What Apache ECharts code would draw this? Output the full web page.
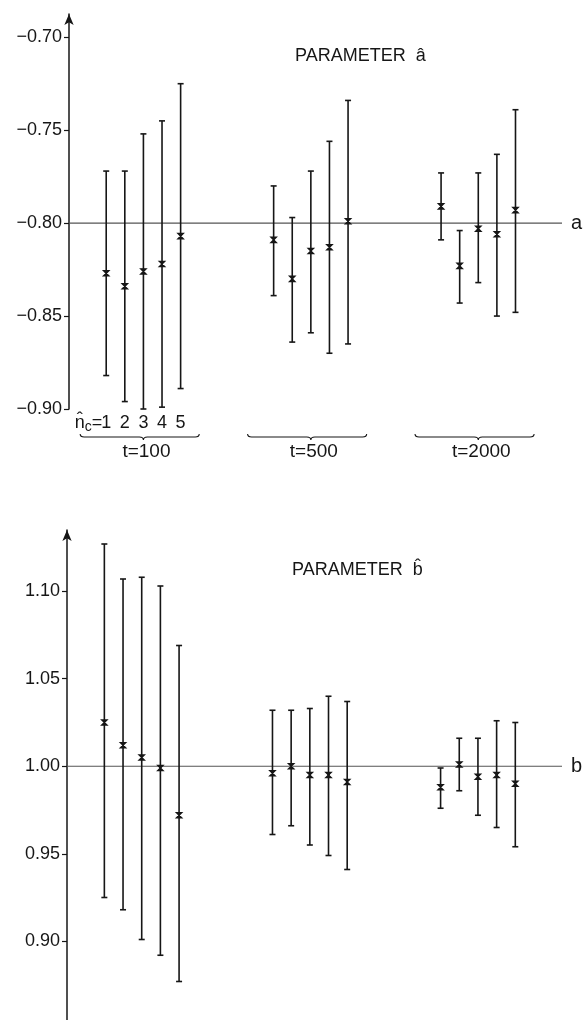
<!DOCTYPE html>
<html>
<head>
<meta charset="utf-8">
<script src="https://cdn.jsdelivr.net/npm/echarts@6/dist/echarts.min.js"></script>
<style>
  html, body { margin: 0; padding: 0; background: #fff; }
  #chart { width: 588px; height: 1020px; }
</style>
</head>
<body>
<div id="chart"></div>
<script>
// groups of simulations (t) and number of components n_c in each group
var groups = ['t=100', 't=500', 't=2000'];
var ncLabels = [1, 2, 3, 4, 5];

// parameter a : lower end, estimate, upper end (5 per group)
var aLow  = [-0.882, -0.896, -0.900, -0.899, -0.889, -0.839, -0.864, -0.859, -0.870, -0.865, -0.809, -0.843, -0.832, -0.850, -0.848];
var aEst  = [-0.827, -0.834, -0.826, -0.822, -0.807, -0.809, -0.830, -0.815, -0.813, -0.799, -0.791, -0.823, -0.803, -0.806, -0.793];
var aHigh = [-0.772, -0.772, -0.752, -0.745, -0.725, -0.780, -0.797, -0.772, -0.756, -0.734, -0.773, -0.804, -0.773, -0.763, -0.739];

// parameter b
var bLow  = [0.925, 0.918, 0.901, 0.892, 0.877, 0.961, 0.966, 0.955, 0.949, 0.941, 0.976, 0.986, 0.972, 0.965, 0.954];
var bEst  = [1.025, 1.012, 1.005, 0.999, 0.972, 0.996, 1.000, 0.995, 0.995, 0.991, 0.988, 1.001, 0.994, 0.995, 0.990];
var bHigh = [1.127, 1.107, 1.108, 1.103, 1.069, 1.032, 1.032, 1.033, 1.040, 1.037, 0.999, 1.016, 1.016, 1.026, 1.025];

// true values and axis tick labels
var aTrue = -0.80, bTrue = 1.00;
var aTicks = [-0.90, -0.85, -0.80, -0.75, -0.70];
var bTicks = [0.90, 0.95, 1.00, 1.05, 1.10];

var ink = '#161616';
var font = "'Liberation Sans', Arial, sans-serif";
var groupStep = 9;   // slots between groups on the x scale

var chart = echarts.init(document.getElementById('chart'));

function fmtTick(v) {
    var s = Math.abs(v).toFixed(2);
    return v < 0 ? '\u2212' + s : s;
}

function barData(low, est, high) {
    return low.map(function (lo, i) {
        var g = Math.floor(i / ncLabels.length), n = ncLabels[i % ncLabels.length];
        return [g * groupStep + n, lo, est[i], high[i]];
    });
}

function errorBars(idx, low, est, high) {
    return {
        type: 'custom',
        xAxisIndex: idx,
        yAxisIndex: idx,
        data: barData(low, est, high),
        encode: { x: 0, y: [1, 2, 3] },
        silent: true,
        z: 3,
        renderItem: function (params, api) {
            var x = api.value(0);
            var lo = api.coord([x, api.value(1)]),
                mid = api.coord([x, api.value(2)]),
                hi = api.coord([x, api.value(3)]);
            var cap = 3, m = 2.6;
            var st = { stroke: ink, lineWidth: 1.6, fill: null };
            return {
                type: 'group',
                children: [
                    { type: 'line', shape: { x1: hi[0], y1: hi[1], x2: lo[0], y2: lo[1] }, style: st },
                    { type: 'line', shape: { x1: hi[0] - cap, y1: hi[1], x2: hi[0] + cap, y2: hi[1] }, style: st },
                    { type: 'line', shape: { x1: lo[0] - cap, y1: lo[1], x2: lo[0] + cap, y2: lo[1] }, style: st },
                    {
                        type: 'polygon',
                        shape: { points: [[mid[0] - m, mid[1] - m], [mid[0] + m, mid[1] - m], [mid[0] - m, mid[1] + m], [mid[0] + m, mid[1] + m]] },
                        style: { stroke: ink, lineWidth: 1.4, fill: ink }
                    }
                ]
            };
        }
    };
}

function trueLine(idx, v, name) {
    return {
        type: 'line',
        xAxisIndex: idx,
        yAxisIndex: idx,
        data: [[-1, v], [25.5, v]],
        symbol: 'none',
        silent: true,
        z: 1,
        lineStyle: { color: '#555', width: 1.2 },
        endLabel: { show: true, formatter: name, distance: 9, color: ink, fontSize: 20, fontFamily: font }
    };
}

function valueAxis(idx, min, max, ticks) {
    return {
        gridIndex: idx,
        type: 'value',
        min: min,
        max: max,
        splitLine: { show: false },
        axisLine: { show: true, onZero: false, symbol: ['none', 'arrow'], symbolSize: [7, 11], lineStyle: { color: ink, width: 1.5 } },
        axisTick: { show: true, length: 5, customValues: ticks, lineStyle: { color: ink, width: 1.2 } },
        axisLabel: { customValues: ticks, formatter: fmtTick, margin: 7, color: ink, fontSize: 18, fontFamily: font }
    };
}

var option = {
    animation: false,
    backgroundColor: '#fff',
    title: [
        { text: 'PARAMETER  \u00e2', left: 290, top: 42, textStyle: { color: ink, fontSize: 18, fontWeight: 'normal', fontFamily: font } },
        { text: 'PARAMETER  b\u0302', left: 287, top: 556, textStyle: { color: ink, fontSize: 18, fontWeight: 'normal', fontFamily: font } }
    ],
    grid: [
        { left: 69, top: 14, width: 493, height: 395, outerBoundsMode: 'none' },
        { left: 67, top: 530, width: 495, height: 490, outerBoundsMode: 'none' }
    ],
    xAxis: [
        { gridIndex: 0, type: 'value', min: -1, max: 25.5, show: false },
        { gridIndex: 1, type: 'value', min: -1, max: 25.5, show: false }
    ],
    yAxis: [
        valueAxis(0, -0.90, -0.6875, aTicks),
        valueAxis(1, 0.855, 1.135, bTicks)
    ],
    series: [
        trueLine(0, aTrue, 'a'),
        trueLine(1, bTrue, 'b'),
        errorBars(0, aLow, aEst, aHigh),
        errorBars(1, bLow, bEst, bHigh),
        // n_c labels under the first group
        {
            type: 'custom',
            xAxisIndex: 0,
            yAxisIndex: 0,
            silent: true,
            data: ncLabels.map(function (n) { return [n, aTicks[0]]; }),
            renderItem: function (params, api) {
                var p = api.coord([api.value(0), api.value(1)]);
                var kids = [{
                    type: 'text',
                    style: { text: String(api.value(0)), x: p[0], y: p[1] + 14, align: 'center', verticalAlign: 'middle', fill: ink, fontSize: 18, fontFamily: font }
                }];
                if (params.dataIndex === 0) {
                    kids.push({
                        type: 'text',
                        style: {
                            text: '{n|n\u0302}{c|c}{e|=}',
                            x: p[0] - 4, y: p[1] + 14, align: 'right', verticalAlign: 'middle',
                            rich: {
                                n: { fontSize: 18, fontFamily: font, fill: ink },
                                c: { fontSize: 14, fontFamily: font, fill: ink, padding: [8, 0, 0, 0] },
                                e: { fontSize: 18, fontFamily: font, fill: ink }
                            }
                        }
                    });
                }
                return { type: 'group', children: kids };
            }
        },
        // braces and t labels
        {
            type: 'custom',
            xAxisIndex: 0,
            yAxisIndex: 0,
            silent: true,
            data: groups.map(function (g, i) { return [i * groupStep + 3, aTicks[0], i]; }),
            renderItem: function (params, api) {
                var c = api.coord([api.value(0), api.value(1)]);
                var l = api.coord([api.value(0) - 3.4, api.value(1)])[0],
                    r = api.coord([api.value(0) + 3.0, api.value(1)])[0];
                var y = c[1] + 28, xc = c[0];
                var d = 'M' + l + ' ' + (y - 3) + ' Q' + l + ' ' + y + ' ' + (l + 4) + ' ' + y +
                        ' L' + (xc - 4) + ' ' + y + ' Q' + xc + ' ' + y + ' ' + xc + ' ' + (y + 3) +
                        ' Q' + xc + ' ' + y + ' ' + (xc + 4) + ' ' + y +
                        ' L' + (r - 4) + ' ' + y + ' Q' + r + ' ' + y + ' ' + r + ' ' + (y - 3);
                return {
                    type: 'group',
                    children: [
                        { type: 'path', shape: { pathData: d }, style: { stroke: ink, lineWidth: 1.1, fill: null } },
                        {
                            type: 'text',
                            style: { text: groups[api.value(2)], x: xc + 3, y: y + 15, align: 'center', verticalAlign: 'middle', fill: ink, fontSize: 19, fontFamily: font }
                        }
                    ]
                };
            }
        }
    ]
};

chart.setOption(option);
</script>
</body>
</html>
